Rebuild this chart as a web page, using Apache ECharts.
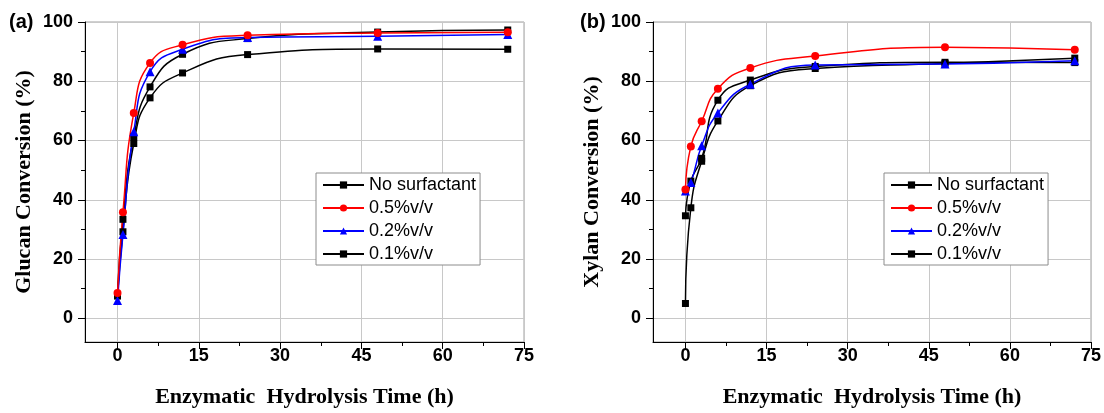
<!DOCTYPE html>
<html>
<head>
<meta charset="utf-8">
<script src="https://cdn.jsdelivr.net/npm/echarts@6/dist/echarts.min.js"></script>
<style>html,body{margin:0;padding:0;background:#fff}#c{width:1104px;height:413px}</style>
</head>
<body>
<div id="c"></div>
<script>
const hours = [0, 1, 3, 6, 12, 24, 48, 72];
const seriesNames = ['No surfactant', '0.5%v/v', '0.2%v/v', '0.1%v/v'];
// Glucan conversion (%)
const glucanNone = [7.5, 29.2, 59.0, 74.4, 82.8, 89.0, 90.9, 90.8];
const glucan05 = [8.5, 35.8, 69.3, 86.2, 92.3, 95.5, 96.3, 96.5];
const glucan02 = [6.0, 28.3, 63.0, 83.2, 90.8, 94.8, 95.2, 95.8];
const glucan01 = [8.0, 33.4, 61.2, 78.1, 89.1, 94.4, 96.6, 97.3];
// Xylan conversion (%)
const xylanNone = [5.0, 37.3, 53.0, 66.6, 78.5, 84.3, 86.0, 87.8];
const xylan05 = [43.5, 58.0, 66.5, 77.5, 84.5, 88.5, 91.5, 90.6];
const xylan02 = [43.0, 45.8, 58.2, 69.3, 79.0, 85.5, 85.8, 86.9];
const xylan01 = [34.6, 46.3, 54.0, 73.6, 80.4, 85.0, 86.4, 86.3];
// ticks
const xMajorTicks = [0, 15, 30, 45, 60, 75];
const xMinorTicks = [7.5, 22.5, 37.5, 52.5, 67.5];
const yMajorTicks = [0, 20, 40, 60, 80, 100];
const yMinorTicks = [10, 30, 50, 70, 90];

const SANS = '"Liberation Sans", Arial, sans-serif';
const SERIF = '"Liberation Serif", "Times New Roman", serif';

function pair(a, b) { return a.map((v, i) => [v, b[i]]); }

function mainX(gi, name) {
  return {
    type: 'value', gridIndex: gi, min: -6, max: 75, position: 'bottom',
    name: name, nameLocation: 'middle', nameGap: 44,
    nameTextStyle: { fontFamily: SERIF, fontWeight: 'bold', fontSize: 22, color: '#000' },
    axisLine: { show: true, onZero: false, lineStyle: { color: '#000', width: 1 } },
    axisTick: { show: true, inside: false, length: 7, customValues: xMajorTicks, lineStyle: { color: '#000' } },
    axisLabel: { customValues: xMajorTicks, margin: 5, fontFamily: SANS, fontWeight: 'bold', fontSize: 18, color: '#000' },
    splitLine: { show: true, lineStyle: { color: '#c8c8c8', width: 1 } }
  };
}
function minorX(gi) {
  return {
    type: 'value', gridIndex: gi, min: -6, max: 75, position: 'bottom', offset: 0,
    axisLine: { show: false, onZero: false },
    axisTick: { show: true, inside: false, length: 4, customValues: xMinorTicks, lineStyle: { color: '#000' } },
    axisLabel: { show: false },
    splitLine: { show: false }
  };
}
function mainY(gi, name) {
  return {
    type: 'value', gridIndex: gi, min: -8, max: 100, position: 'left',
    name: name, nameLocation: 'middle', nameGap: 50,
    nameTextStyle: { fontFamily: SERIF, fontWeight: 'bold', fontSize: 22, color: '#000' },
    axisLine: { show: true, onZero: false, lineStyle: { color: '#000', width: 1 } },
    axisTick: { show: true, inside: false, length: 7, customValues: yMajorTicks, lineStyle: { color: '#000' } },
    axisLabel: { customValues: yMajorTicks, margin: 12, fontFamily: SANS, fontWeight: 'bold', fontSize: 18, color: '#000' },
    splitLine: { show: true, lineStyle: { color: '#c8c8c8', width: 1 } }
  };
}
function minorY(gi) {
  return {
    type: 'value', gridIndex: gi, min: -8, max: 100, position: 'left', offset: 0,
    axisLine: { show: false, onZero: false },
    axisTick: { show: true, inside: false, length: 4, customValues: yMinorTicks, lineStyle: { color: '#000' } },
    axisLabel: { show: false },
    splitLine: { show: false }
  };
}

const styles = [
  { color: '#000000', symbol: 'rect', size: 7 },
  { color: '#ff0000', symbol: 'circle', size: 8 },
  { color: '#0000ff', symbol: 'triangle', size: 9 },
  { color: '#000000', symbol: 'rect', size: 7 }
];

function mk(idx, data, xi, yi) {
  const s = styles[idx];
  return {
    type: 'line', name: seriesNames[idx], xAxisIndex: xi, yAxisIndex: yi,
    data: pair(hours, data),
    smooth: 0.5,
    symbol: s.symbol, symbolSize: s.size, showSymbol: true,
    lineStyle: { color: s.color, width: 1.5 },
    itemStyle: { color: s.color },
    emphasis: { disabled: true },
    animation: false
  };
}

function legendAt(left) {
  return {
    orient: 'vertical', left: left, top: 173,
    data: seriesNames,
    backgroundColor: '#fff', borderColor: '#8c8c8c', borderWidth: 1,
    padding: [3, 4, 2, 6],
    itemWidth: 41, itemHeight: 9, itemGap: 5,
    textStyle: { fontFamily: SANS, fontSize: 18, color: '#000', lineHeight: 18 },
    selectedMode: false
  };
}

const chart = echarts.init(document.getElementById('c'), null, { renderer: 'canvas' });
chart.setOption({
  backgroundColor: '#ffffff',
  animation: false,
  title: [
    { text: '(a)', left: 9, top: 12, textStyle: { fontFamily: SANS, fontWeight: 'bold', fontSize: 20, color: '#000' }, padding: 0 },
    { text: '(b)', left: 580, top: 12, textStyle: { fontFamily: SANS, fontWeight: 'bold', fontSize: 20, color: '#000' }, padding: 0 }
  ],
  grid: [
    { left: 85, right: 580, top: 22, bottom: 71, show: true, borderColor: '#a0a0a0', borderWidth: 1, containLabel: false },
    { left: 653, right: 13, top: 22, bottom: 71, show: true, borderColor: '#a0a0a0', borderWidth: 1, containLabel: false }
  ],
  xAxis: [
    mainX(0, 'Enzymatic  Hydrolysis Time (h)'), minorX(0),
    mainX(1, 'Enzymatic  Hydrolysis Time (h)'), minorX(1)
  ],
  yAxis: [
    mainY(0, 'Glucan Conversion (%)'), minorY(0),
    mainY(1, 'Xylan Conversion (%)'), minorY(1)
  ],
  legend: [legendAt(316), legendAt(884)],
  series: [
    mk(0, glucanNone, 0, 0), mk(3, glucan01, 0, 0), mk(2, glucan02, 0, 0), mk(1, glucan05, 0, 0),
    mk(0, xylanNone, 2, 2), mk(3, xylan01, 2, 2), mk(2, xylan02, 2, 2), mk(1, xylan05, 2, 2)
  ]
});
</script>
</body>
</html>
